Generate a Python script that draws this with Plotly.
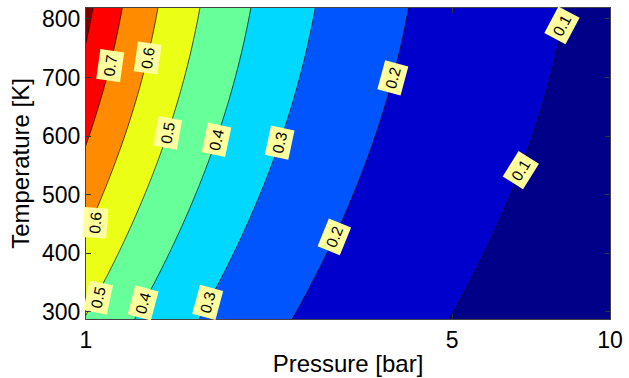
import numpy as np
import plotly.graph_objects as go

# ---- data ----
levels = [0.1, 0.2, 0.3, 0.4, 0.5, 0.6, 0.7, 0.8]
temps_read = [300, 400, 500, 600, 700, 800]          # K
# pressure [bar] where each contour level crosses the given temperature
p_lvl_01 = [5.01, 5.79, 6.47, 7.09, 7.66, 8.18]
p_lvl_02 = [2.51, 2.90, 3.24, 3.55, 3.84, 4.10]
p_lvl_03 = [1.667, 1.925, 2.152, 2.357, 2.546, 2.722]
p_lvl_04 = [1.256, 1.450, 1.621, 1.776, 1.918, 2.051]
p_lvl_05 = [1.004, 1.160, 1.297, 1.420, 1.534, 1.640]
p_lvl_06 = [0.835, 0.965, 1.078, 1.181, 1.276, 1.364]
p_lvl_07 = [0.714, 0.825, 0.922, 1.010, 1.091, 1.166]
p_lvl_08 = [0.628, 0.725, 0.811, 0.888, 0.959, 1.025]

# contour labels: level and temperature where they sit
label_levels = [0.7, 0.6, 0.5, 0.4, 0.3, 0.2, 0.1, 0.1, 0.2, 0.6, 0.5, 0.4, 0.3]
label_temps = [721, 733, 606, 593, 589, 700, 788, 542, 428, 452, 325, 315, 315]

x_ticks = [1, 5, 10]
x_ticktext = ["1", "5", "10"]
y_ticks = [300, 400, 500, 600, 700, 800]
t_range = [287.6, 818.6]

# ---- style ----
label_angles = [-82, -82, -80, -78, -78, -75, -62, -58, -68, -86, -78, -75, -75]
label_xshift = [0, 0, 0, 0, 0, 0, 0, 0, 0, 5, 2, 0, 0]
band_colors = ["#000088", "#0000CC", "#0055FF", "#00D8FF", "#66FF99",
               "#EAFF15", "#FF8C00", "#FF0000", "#800000"]
FONT = "Liberation Sans, Arial, sans-serif"

# ---- build z grid from the read contour positions ----
level_p = [p_lvl_01, p_lvl_02, p_lvl_03, p_lvl_04, p_lvl_05, p_lvl_06, p_lvl_07, p_lvl_08]
fits = [np.polyfit(temps_read, np.log10(p), 2) for p in level_p]


def level_logp(k, t):
    return np.polyval(fits[k], t)


P_grid = np.logspace(np.log10(0.8), np.log10(12), 500)
T_grid = np.linspace(280, 830, 160)
lp_grid = np.log10(P_grid)
lv = np.array(levels)
Z = np.zeros((len(T_grid), len(P_grid)))
for i, t in enumerate(T_grid):
    lps = np.array([level_logp(k, t) for k in range(len(levels))])
    order = np.argsort(lps)
    xs, zs = lps[order], lv[order]
    row = np.interp(lp_grid, xs, zs)
    lo = lp_grid < xs[0]
    s_lo = (zs[1] - zs[0]) / (xs[1] - xs[0])
    row[lo] = zs[0] + s_lo * (lp_grid[lo] - xs[0])
    hi = lp_grid > xs[-1]
    s_hi = (zs[-1] - zs[-2]) / (xs[-1] - xs[-2])
    row[hi] = np.maximum(zs[-1] + s_hi * (lp_grid[hi] - xs[-1]), 0.005)
    Z[i] = row

n = len(band_colors)
colorscale = [[k / (n - 1), c] for k, c in enumerate(band_colors)]

fig = go.Figure()
fig.add_trace(go.Contour(
    x=P_grid, y=T_grid, z=Z,
    contours=dict(start=levels[0], end=levels[-1], size=0.1, coloring="fill"),
    colorscale=colorscale,
    line=dict(color="black", width=0.7),
    showscale=False,
    hoverinfo="skip",
))

for lvl, t, ang, xs_ in zip(label_levels, label_temps, label_angles, label_xshift):
    k = levels.index(lvl)
    fig.add_annotation(
        x=float(level_logp(k, t)), y=t, xref="x", yref="y",
        text=f"{lvl:.1f}", showarrow=False, textangle=ang,
        font=dict(family=FONT, size=15.5, color="black"),
        bgcolor="#FFFF9E", borderpad=2, width=25, height=19,
        xshift=xs_,
    )

fig.update_layout(
    width=629, height=378,
    margin=dict(l=86, r=15, t=6, b=59),
    paper_bgcolor="white", plot_bgcolor="white",
    font=dict(family=FONT, color="black"),
    showlegend=False,
)
fig.update_xaxes(
    type="log", range=[0, 1],
    tickvals=x_ticks, ticktext=x_ticktext,
    ticks="inside", ticklen=5, tickcolor="#333",
    showline=True, linecolor="#444", linewidth=1, mirror="ticks",
    showgrid=False, zeroline=False,
    tickfont=dict(family=FONT, size=23),
    title=dict(text="Pressure [bar]", font=dict(family=FONT, size=24), standoff=3),
)
fig.update_yaxes(
    range=t_range, tickvals=y_ticks,
    ticks="inside", ticklen=5, tickcolor="#333",
    showline=True, linecolor="#444", linewidth=1, mirror="ticks",
    showgrid=False, zeroline=False,
    tickfont=dict(family=FONT, size=23),
    title=dict(text="Temperature [K]", font=dict(family=FONT, size=24), standoff=5),
)

fig.write_html(
    "out.html",
    config={"displayModeBar": False},
    post_script="document.body.style.margin='0';document.body.style.overflow='hidden';",
)
